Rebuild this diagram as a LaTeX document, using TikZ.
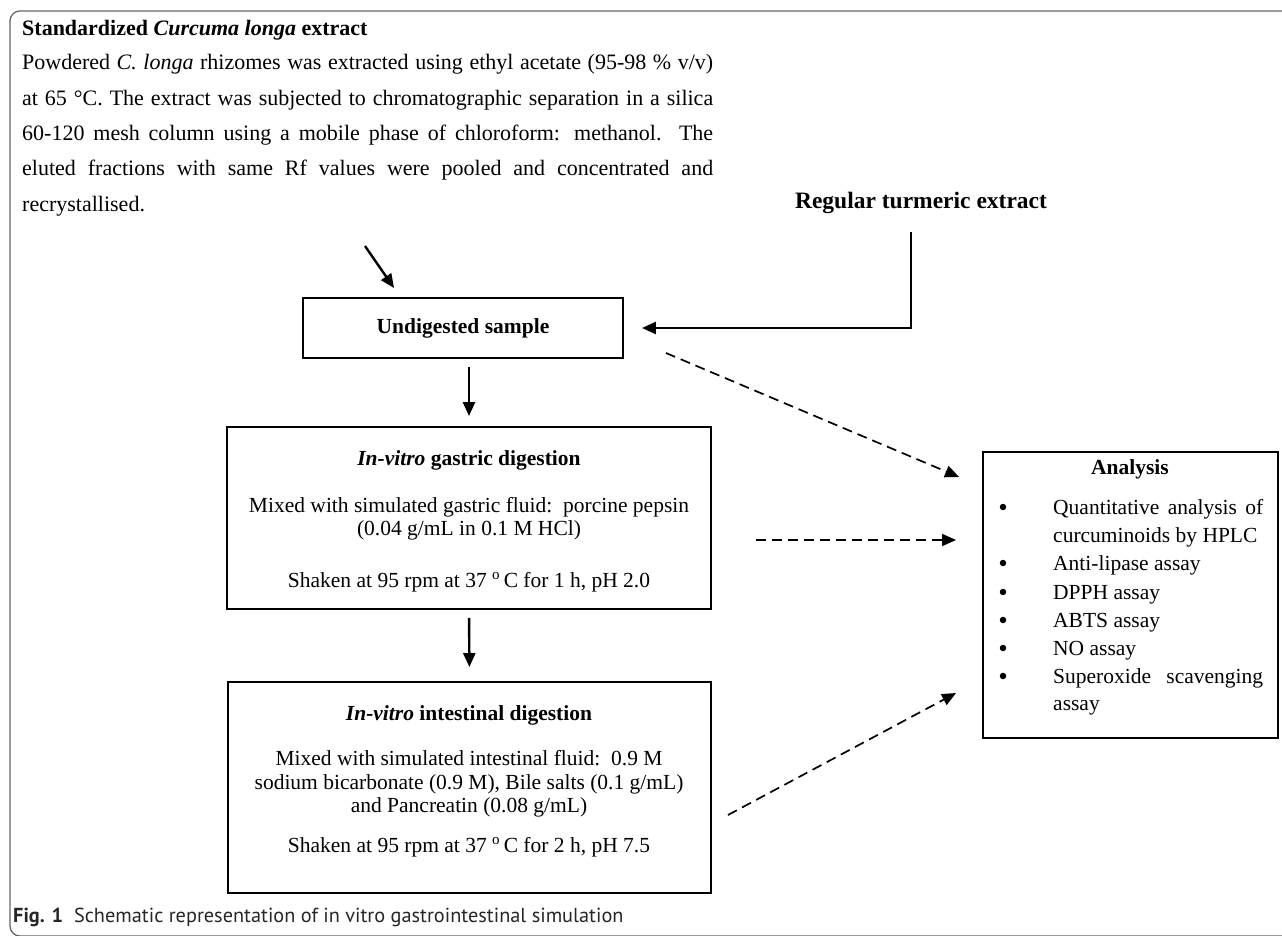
\documentclass[tikz,border=0pt]{standalone}
\usepackage{fontspec}
\setmainfont{Liberation Serif}
\newfontfamily\capfont{PT Sans}
\usetikzlibrary{arrows.meta,calc}
\tikzset{
  box/.style={draw, line width=1.9pt, inner sep=0pt},
  txt/.style={anchor=base, inner sep=0pt, font=\fontsize{21.5}{26}\selectfont},
  ptxt/.style={anchor=base west, inner sep=0pt, font=\fontsize{22}{26}\selectfont},
  bul/.style={circle, fill, inner sep=0pt, minimum size=6.5pt},
  arr/.style={line width=2.4pt, -{Triangle[length=14pt,width=12pt]}},
  dsh/.style={line width=1.7pt, dash pattern=on 10pt off 6pt, -{Triangle[length=14pt,width=12pt]}},
}
\begin{document}
\begin{tikzpicture}[x=1pt,y=-1pt]
\useasboundingbox (0,0) rectangle (1282,936);
% outer frame
\draw[black!60, line width=1.3pt, rounded corners=10pt] (10,11) rectangle (1300,936);

% top text
\node[ptxt] (hdr) at (22,36) {\textbf{Standardized \textit{Curcuma longa} extract}};
\node[ptxt] (p1) at (22,70) {\makebox[691pt][s]{Powdered \textit{C. longa} rhizomes was extracted using ethyl acetate (95-98 \% v/v)}};
\node[ptxt] (p2) at (22,105.3) {\makebox[691pt][s]{at 65 °C. The extract was subjected to chromatographic separation in a silica}};
\node[ptxt] (p3) at (22,140.6) {\makebox[691pt][s]{60-120 mesh column using a mobile phase of chloroform: methanol. The}};
\node[ptxt] (p4) at (22,175.9) {\makebox[691pt][s]{eluted fractions with same Rf values were pooled and concentrated and}};
\node[ptxt] (p5) at (22,211.2) {recrystallised.};

% regular turmeric
\node[anchor=base, inner sep=0pt, font=\fontsize{23.5}{28}\selectfont\bfseries] (reg) at (921,208) {Regular turmeric extract};

% boxes
\node[box, minimum width=320pt, minimum height=60pt, font=\fontsize{21.5}{26}\selectfont\bfseries] (undig) at (463,328) {Undigested sample};
\node[box, minimum width=484pt, minimum height=182pt] (gastric) at (469,518) {};
\node[box, minimum width=483pt, minimum height=211pt] (intest) at (469.5,787.5) {};
\node[box, minimum width=295pt, minimum height=286pt] (anal) at (1130.5,595) {};

% gastric text
\node[txt] (g1) at (469,465) {\textbf{\textit{In-vitro} gastric digestion}};
\node[txt] (g2) at (469,512) {Mixed with simulated gastric fluid:\ \ porcine pepsin};
\node[txt] (g3) at (469,535) {(0.04 g/mL in 0.1 M HCl)};
\node[txt] (g4) at (469,587) {Shaken at 95 rpm at 37 \textsuperscript{o}\,C for 1 h, pH 2.0};

% intestinal text
\node[txt] (i1) at (469,720) {\textbf{\textit{In-vitro} intestinal\ digestion}};
\node[txt] (i2) at (469,765) {Mixed with simulated intestinal fluid:\ \ 0.9 M};
\node[txt] (i3) at (469,789) {sodium bicarbonate (0.9 M), Bile salts (0.1 g/mL)};
\node[txt] (i4) at (469,812) {and Pancreatin (0.08 g/mL)};
\node[txt] (i5) at (469,852) {Shaken at 95 rpm at 37 \textsuperscript{o}\,C for 2 h, pH 7.5};

% analysis text
\node[txt] (a0) at (1130,474) {\textbf{Analysis}};
\foreach \y/\n in {507/b1,563/b2,592/b3,620/b4,648/b5,676/b6}{
  \node[bul] (\n) at (1003,\y) {};
}
\node[txt, anchor=base west] (a1) at (1053,514) {\makebox[210pt][s]{Quantitative analysis of}};
\node[txt, anchor=base west] (a2) at (1053,542) {curcuminoids by HPLC};
\node[txt, anchor=base west] (a3) at (1053,570) {Anti-lipase assay};
\node[txt, anchor=base west] (a4) at (1053,599) {DPPH assay};
\node[txt, anchor=base west] (a5) at (1053,627) {ABTS assay};
\node[txt, anchor=base west] (a6) at (1053,655) {NO assay};
\node[txt, anchor=base west] (a7) at (1053,683) {\makebox[210pt][s]{Superoxide scavenging}};
\node[txt, anchor=base west] (a8) at (1053,710) {assay};

% caption
\node[anchor=base west, inner sep=0pt, font=\capfont\fontsize{20.3}{24}\selectfont, text=black!85] (cap) at (13,922) {\textbf{Fig. 1}\ \ Schematic representation of in vitro gastrointestinal simulation};

% connectors
\coordinate (a1s) at (365,246);
\coordinate (regs) at (911,232);
\draw[arr] (a1s) -- ($(undig.north west)+(92,-9)$);
\draw[arr, shorten <=8pt, shorten >=10pt] (gastric.north |- undig.south) -- (gastric.north);
\draw[arr, shorten <=8pt, shorten >=14pt] (gastric.south) -- (intest.north);
\draw[arr, shorten >=18pt] (regs) |- (undig.east);
\draw[dsh] ($(undig.east)+(42,25)$) -- ($(anal.west)+(-23,-118)$);
\draw[dsh] ($(gastric.east)+(44,22)$) -- ($(anal.west)+(-26,-55)$);
\draw[dsh] ($(intest.east)+(16,27.5)$) -- ($(anal.west)+(-26,98)$);
\end{tikzpicture}
\end{document}
